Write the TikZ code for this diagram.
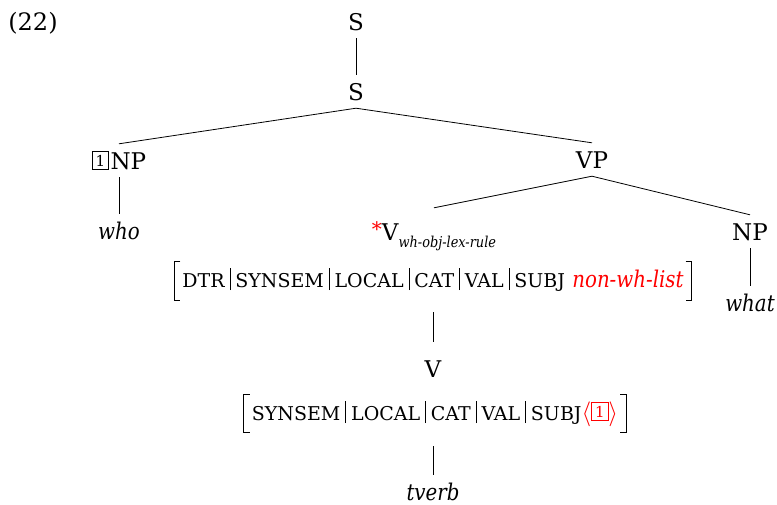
\documentclass[tikz,border=0pt]{standalone}
\usepackage{fontspec}
\setmainfont{DejaVu Serif}
% small capitals imitated with reduced upper case
\newcommand\smc[1]{{\fontsize{19}{21}\selectfont #1}}
% path separator inside a feature path
\newcommand\pth{\kern5pt\vrule width 0.7pt height 19pt depth 3pt\kern5pt}
% narrow italic
\newcommand\nit[1]{\scalebox{0.86}[1]{\itshape #1}}
% boxed structure-sharing tag
\newcommand\tagnum[1]{\raisebox{3pt}{\setlength\fboxsep{3.2pt}\setlength\fboxrule{0.6pt}\fbox{\fontsize{15}{15}\selectfont #1}}}

\begin{document}
\begin{tikzpicture}[x=1pt,y=-1pt,
  every node/.style={font=\fontsize{23}{27}\selectfont, inner sep=0pt},
  cat/.style={anchor=base, text height=17pt, text depth=0pt, inner ysep=8pt, inner xsep=1pt},
  avm/.style={anchor=base, inner xsep=8pt, inner ysep=0pt},
  edge/.style={line width=0.8pt},
  brk/.style={line width=1.3pt},
  ]
\useasboundingbox (0,0) rectangle (777,504);

\node[anchor=base, font=\fontsize{24}{28}\selectfont] (ex) at (33,30) {(22)};

\node[cat] (s1) at (356,30) {S};
\node[cat] (s2) at (356,100) {S};
\node[cat] (np1) at (119,169) {\tagnum{1}\kern1.5pt NP};
\node[cat] (who) at (119,239) {\nit{who}};
\node[cat] (vp) at (592,168) {VP};
\node[cat, text height=24pt] (vlex) at (434,240)
  {\textcolor{red}{\raisebox{4pt}{\fontsize{20}{20}\selectfont *}}V\raisebox{-7pt}{\fontsize{15}{15}\selectfont\nit{wh-obj-lex-rule}}};
\node[avm] (avm1) at (433,287)
  {\vrule height 25pt depth 13pt width 0pt\smc{DTR}\pth\smc{SYNSEM}\pth\smc{LOCAL}\pth\smc{CAT}\pth\smc{VAL}\pth\smc{SUBJ} \textcolor{red}{\nit{non-wh-list}}};
\node[cat, inner ysep=18pt] (v) at (433,377) {V};
\node[avm] (avm2) at (435,420)
  {\vrule height 25pt depth 12pt width 0pt\smc{SYNSEM}\pth\smc{LOCAL}\pth\smc{CAT}\pth\smc{VAL}\pth\smc{SUBJ}\textcolor{red}{$\langle$\tagnum{1}$\rangle$}};
\node[cat] (tverb) at (433,500) {\nit{tverb}};
\node[cat] (np2) at (750,240) {NP};
\node[cat] (what) at (750,311) {\nit{what}};

% brackets of the two feature structures
\foreach \m in {avm1,avm2}{
  \draw[brk] ([xshift=6pt]\m.north west) -- (\m.north west) -- (\m.south west) -- ([xshift=6pt]\m.south west);
  \draw[brk] ([xshift=-6pt]\m.north east) -- (\m.north east) -- (\m.south east) -- ([xshift=-6pt]\m.south east);
}

\draw[edge] (s1.south) -- (s2.north);
\draw[edge] (s2.south) -- (np1.north);
\draw[edge] (s2.south) -- (vp.north);
\draw[edge] (np1.south) -- (who.north);
\draw[edge] (vp.south) -- (vlex.north);
\draw[edge] (vp.south) -- (np2.north);
\draw[edge] (np2.south) -- (what.north);
\draw[edge] ([yshift=-12pt]avm1.south) -- (v.north);
\draw[edge] ([yshift=-14pt]avm2.south -| tverb.north) -- (tverb.north);
\end{tikzpicture}
\end{document}
